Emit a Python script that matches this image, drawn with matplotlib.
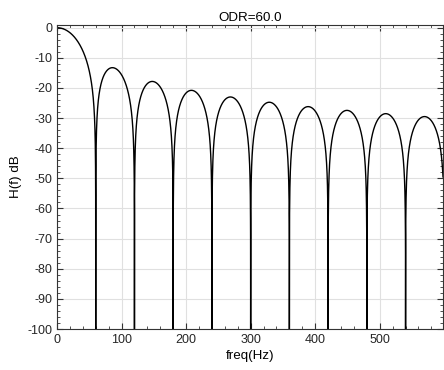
import numpy as np
import matplotlib
matplotlib.use("Agg")
import matplotlib.pyplot as plt
from matplotlib.ticker import MultipleLocator

plt.rcParams['font.family'] = ['Liberation Sans', 'DejaVu Sans']
plt.rcParams['axes.unicode_minus'] = False

# Filter settings shown in the chart
odr = 60.0
f_max = 598.0
db_floor = -100.0

# Frequency response of the sinc filter: H(f) = 20 log10 |sinc(f / ODR)|
freq = np.arange(0, f_max + 0.05, 0.1)
with np.errstate(divide='ignore'):
    h_db = 20 * np.log10(np.abs(np.sinc(freq / odr)))
h_db = np.maximum(h_db, db_floor)

fig = plt.figure(figsize=(4.44, 3.70), dpi=100)
ax = fig.add_axes([57 / 444, 41 / 370, 386 / 444, 304 / 370])

ax.plot(freq, h_db, color='black', linewidth=1.0)

ax.set_xlim(0, f_max)
ax.set_ylim(db_floor, 0.9)
ax.xaxis.set_major_locator(MultipleLocator(100))
ax.xaxis.set_minor_locator(MultipleLocator(20))
ax.yaxis.set_major_locator(MultipleLocator(10))
ax.yaxis.set_minor_locator(MultipleLocator(2))
ax.tick_params(which='both', direction='in', top=True, right=True,
               colors='#333333', labelcolor='#262626', labelsize=9)
ax.tick_params(which='major', length=4)
ax.tick_params(which='minor', length=2)
for s in ax.spines.values():
    s.set_color('#333333')
ax.grid(True, which='major', color='#e0e0e0', linewidth=0.8)
ax.set_axisbelow(True)

ax.set_title("ODR=60.0", fontsize=9.6, pad=3)
ax.set_xlabel("freq(Hz)", fontsize=9.6, labelpad=3)
ax.set_ylabel("H(f) dB", fontsize=9.6, labelpad=4)

fig.savefig("out.png", dpi=100)
